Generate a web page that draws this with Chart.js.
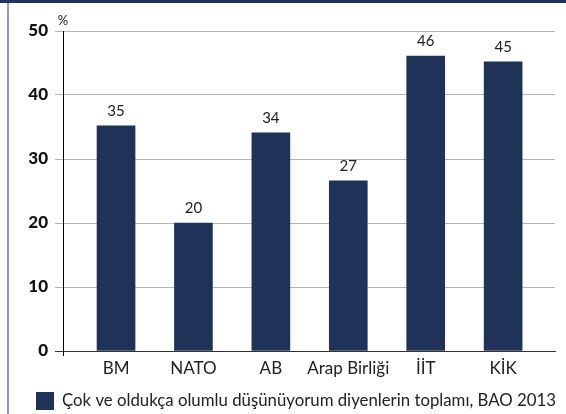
<!DOCTYPE html>
<html>
<head>
<meta charset="utf-8">
<script src="https://cdn.jsdelivr.net/npm/chart.js@4"></script>
<style>
  body { margin: 0; background: #fff; }
  #wrap { position: relative; width: 566px; height: 414px; overflow: hidden; }
  #topbar { position: absolute; left: 0; top: 0; width: 566px; height: 3px; background: #1f3560; }
  #leftbar { position: absolute; left: 7px; top: 3px; width: 2px; height: 411px; background: #8c9cc0; }
  canvas { position: absolute; left: 0; top: 0; }
</style>
</head>
<body>
<div id="wrap">
  <canvas id="chart" width="566" height="414"></canvas>
  <div id="topbar"></div>
  <div id="leftbar"></div>
</div>
<script>
// Chart data
const categories = ['BM', 'NATO', 'AB', 'Arap Birliği', 'İİT', 'KİK'];
const values = [35.2, 20.0, 34.1, 26.6, 46.1, 45.2];
const valueLabels = ['35', '20', '34', '27', '46', '45'];
const yTicks = [0, 10, 20, 30, 40, 50];
const seriesName = 'Çok ve oldukça olumlu düşünüyorum diyenlerin toplamı, BAO 2013';

const navy = '#1f3358';
const xMin = -0.685;
const xMax = 5.67;

// Value labels above bars, "%" unit label and the legend line
const extras = {
  id: 'extras',
  afterDraw(chart) {
    const ctx = chart.ctx;
    ctx.save();
    ctx.fillStyle = '#222';
    ctx.font = '15px Lato';
    ctx.textAlign = 'center';
    ctx.textBaseline = 'bottom';
    chart.getDatasetMeta(0).data.forEach((bar, i) => {
      ctx.fillText(valueLabels[i], bar.x, bar.y - 7);
    });
    ctx.font = '13px Lato';
    ctx.fillText('%', chart.scales.x.left, chart.scales.y.top - 4);

    // legend
    const ds = chart.data.datasets[0];
    const ly = chart.height - 13;
    ctx.fillStyle = ds.backgroundColor;
    ctx.fillRect(36, ly - 9, 18, 18);
    ctx.fillStyle = '#222';
    ctx.font = '16.8px Lato';
    ctx.textAlign = 'left';
    ctx.textBaseline = 'middle';
    ctx.fillText(ds.label, 62, ly);
    ctx.restore();
  }
};

new Chart(document.getElementById('chart'), {
  type: 'bar',
  data: {
    datasets: [{
      label: seriesName,
      data: values.map((v, i) => ({ x: i, y: v })),
      backgroundColor: navy,
      borderWidth: 0,
      barThickness: 38
    }]
  },
  options: {
    responsive: false,
    animation: false,
    layout: { padding: { left: 0, right: 11, top: 31, bottom: 33 } },
    scales: {
      x: {
        type: 'linear',
        offset: false,
        min: xMin,
        max: xMax,
        afterFit: (scale) => { scale.height = 30; },
        afterBuildTicks: (scale) => {
          scale.ticks = [{ value: xMin }].concat(categories.map((c, i) => ({ value: i })));
        },
        grid: {
          offset: false,
          drawOnChartArea: false,
          tickLength: 5,
          color: (c) => (c.index === 0 ? '#000' : 'rgba(0,0,0,0)')
        },
        border: { color: '#333', width: 1 },
        ticks: {
          autoSkip: false,
          maxRotation: 0,
          padding: 2,
          color: '#222',
          font: { family: 'Lato', size: 17 },
          callback: (v) => (Number.isInteger(v) && categories[v] !== undefined ? categories[v] : '')
        }
      },
      y: {
        min: 0,
        max: 50,
        afterFit: (scale) => { scale.width = 63; },
        afterBuildTicks: (scale) => { scale.ticks = yTicks.map(v => ({ value: v })); },
        grid: {
          tickLength: 8,
          color: (c) => (c.tick && c.tick.value === 0 ? '#333' : '#b5b5b5')
        },
        border: { color: '#000', width: 1 },
        ticks: {
          padding: 7,
          color: '#111',
          font: { family: 'Lato', size: 17, weight: '900' }
        }
      }
    },
    plugins: {
      legend: { display: false },
      tooltip: { enabled: false }
    }
  },
  plugins: [extras]
});
</script>
</body>
</html>
